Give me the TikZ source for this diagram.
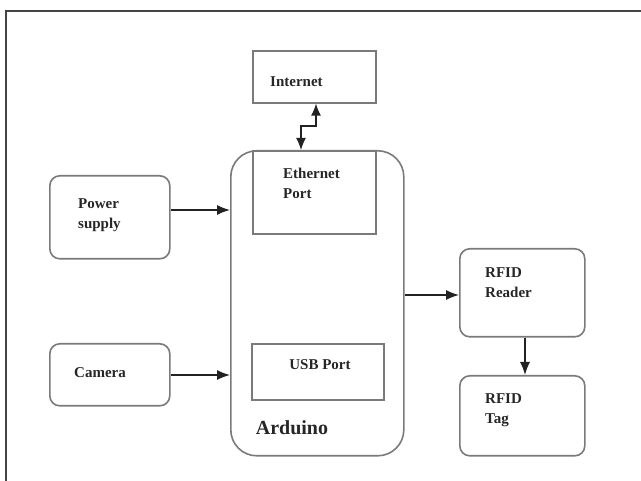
\documentclass[tikz,border=0pt]{standalone}
\usepackage{fontspec}
\setmainfont{Liberation Serif}
\usetikzlibrary{arrows.meta}
\definecolor{boxgray}{HTML}{7A7A7A}
\definecolor{arrowc}{HTML}{222222}
\definecolor{framec}{HTML}{444444}
\begin{document}
\begin{tikzpicture}[x=1pt,y=-1pt,
  sq/.style={draw=boxgray,line width=1.6pt,inner sep=0pt,anchor=north west},
  rbox/.style={sq,rounded corners=10pt},
  lbl/.style={font=\fontsize{15}{20}\selectfont\bfseries,inner sep=0pt,align=left,text=black!85},
  conn/.style={draw=arrowc,line width=1.4pt,-{Latex[length=13pt,width=10pt]}},
  conn2/.style={draw=arrowc,line width=1.4pt,{Latex[length=12pt,width=10pt]}-{Latex[length=12pt,width=10pt]}}
]
\useasboundingbox (0,0) rectangle (641,481);
\draw[framec,line width=1.3pt] (6,481) -- (6,11) -- (641,11);

% Arduino
\node[sq,rounded corners=26pt,minimum width=173pt,minimum height=305pt] (ard) at (230,150) {};
\node[sq,minimum width=123pt,minimum height=83pt] (eth) at (252,150) {};
\node[sq,minimum width=132pt,minimum height=56pt] (usb) at (251,343) {};
\node[sq,minimum width=123pt,minimum height=52pt] (inet) at (252,50) {};
\node[rbox,minimum width=120pt,minimum height=83pt] (pow) at (49,175) {};
\node[rbox,minimum width=120pt,minimum height=62pt] (cam) at (49,343) {};
\node[rbox,minimum width=125pt,minimum height=88pt] (rdr) at (459,248) {};
\node[rbox,minimum width=125pt,minimum height=80pt] (tag) at (459,375) {};

% labels
\node[lbl,anchor=west] (tinet) at (270,82) {Internet};
\node[lbl,anchor=north west] (teth) at (283,168) {Ethernet\\Port};
\node[lbl] (tusb) at (320,365) {USB Port};
\node[lbl,font=\fontsize{20}{24}\selectfont\bfseries] (tard) at (292,428) {Arduino};
\node[lbl,anchor=north west] (tpow) at (78,198) {Power\\supply};
\node[lbl] (tcam) at (100,373) {Camera};
\node[lbl,anchor=north west] (trdr) at (485,267) {RFID\\Reader};
\node[lbl,anchor=north west] (ttag) at (485,393) {RFID\\Tag};

% connectors
\coordinate (z1) at (301,126);
\coordinate (z2) at (316,126);
\draw[conn2] (eth.north -| z1) -- (z1) -- (z2) -- (inet.south -| z2);
\coordinate (ypow) at (0,210);
\coordinate (ycam) at (0,375);
\coordinate (yrdr) at (0,295);
\coordinate (xrt) at (525,0);
\draw[conn] (pow.east |- ypow) -- (ard.west |- ypow);
\draw[conn] (cam.east |- ycam) -- (ard.west |- ycam);
\draw[conn] (ard.east |- yrdr) -- (rdr.west |- yrdr);
\draw[conn] (rdr.south -| xrt) -- (tag.north -| xrt);
\end{tikzpicture}
\end{document}
